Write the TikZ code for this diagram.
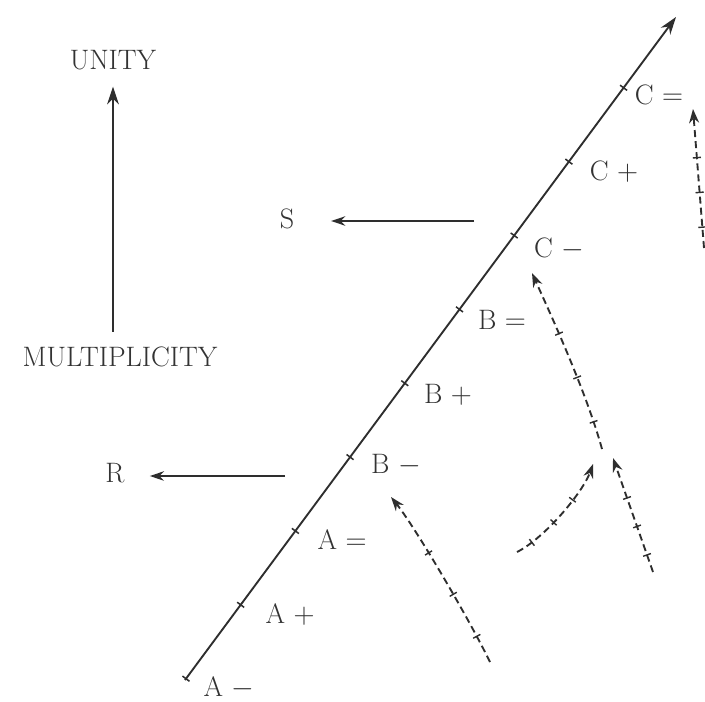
\documentclass[tikz,border=0pt]{standalone}
\usepackage{fontspec}
\usetikzlibrary{arrows.meta,calc,decorations.markings}
\tikzset{
  ink/.style  ={black!82},
  lbl/.style  ={font=\fontsize{24}{28}\selectfont\addfontfeature{FakeBold=1.2},
                inner sep=0pt, text=black!80},
  axis/.style ={ink, line width=1.6pt, -{Stealth[length=15pt,width=10pt]}},
  fl/.style   ={ink, line width=1.6pt, -{Stealth[length=12pt,width=8pt]}},
  tk/.style   ={ink, line width=1.3pt},
  dsh/.style  ={ink, line width=1.6pt, dash pattern=on 6pt off 3.5pt,
                -{Stealth[length=12pt,width=8.5pt]},
                postaction={decorate, decoration={markings,
                  mark=between positions 0.15 and 0.85 step 0.25 with
                    {\draw[ink, solid, -, line width=1.2pt] (0,-3.5pt)--(0,3.5pt);}}}},
}

\begin{document}
\begin{tikzpicture}[x=0.03cm, y=-0.03cm]
  \path[use as bounding box, fill=white] (0,0) rectangle (705,701);

  % unity / multiplicity
  \node[lbl](unity) at (113,60){UNITY};
  \node[lbl](multi) at (120,357){MULTIPLICITY};
  \draw[axis, shorten <=0.45cm, shorten >=0.5cm](multi.north -| unity) -- (unity);

  % main scale
  \coordinate (lo) at (185,680);
  \coordinate (hi) at (676,17);
  \draw[axis](lo) -- (hi);
  \foreach \k in {0,...,8}{
    \pgfmathsetmacro\t{0.002+0.1114*\k}
    \coordinate (tk\k) at ($(lo)!\t!(hi)$);
    \draw[tk]($(tk\k)+(-3.5,-2.6)$) -- ($(tk\k)+(3.5,2.6)$);
  }
  \foreach \x/\y/\txt/\nm in {229/688/A $-$/lAm, 290/614/A $+$/lAp, 342/540/A $=$/lAe,
      396/465/B $-$/lBm, 448/395/B $+$/lBp, 502/320/B $=$/lBe,
      559/249/C $-$/lCm, 614/172/C $+$/lCp, 659/95/C $=$/lCe}
    \node[lbl](\nm) at (\x,\y){\txt};

  % S and R
  \node[lbl](S) at (287,219){S};
  \coordinate (sfrom) at (474,221);
  \draw[fl, shorten >=1.1cm](sfrom) -- (S.east |- sfrom);
  \node[lbl](R) at (115,473){R};
  \coordinate (rfrom) at (285,476);
  \draw[fl, shorten >=0.75cm](rfrom) -- (R.east |- rfrom);

  % dashed arrows
  \coordinate (d1) at (490,662);  \coordinate (e1) at (391,497);
  \coordinate (d2) at (653,572);  \coordinate (e2) at (613,458);
  \coordinate (d3) at (517,552);  \coordinate (e3) at (593,464);
  \coordinate (d4) at (602,449);  \coordinate (e4) at (532,273);
  \coordinate (d5) at (704,248);  \coordinate (e5) at (693,109);
  \draw[dsh](d1) .. controls +(-22,-45) and +(24,30) .. (e1);
  \draw[dsh](d2) -- (e2);
  \draw[dsh](d3) .. controls +(28,-14) and +(-10,28) .. (e3);
  \draw[dsh](d4) .. controls +(-16,-58) and +(18,40) .. (e4);
  \draw[dsh](d5) -- (e5);
\end{tikzpicture}
\end{document}
